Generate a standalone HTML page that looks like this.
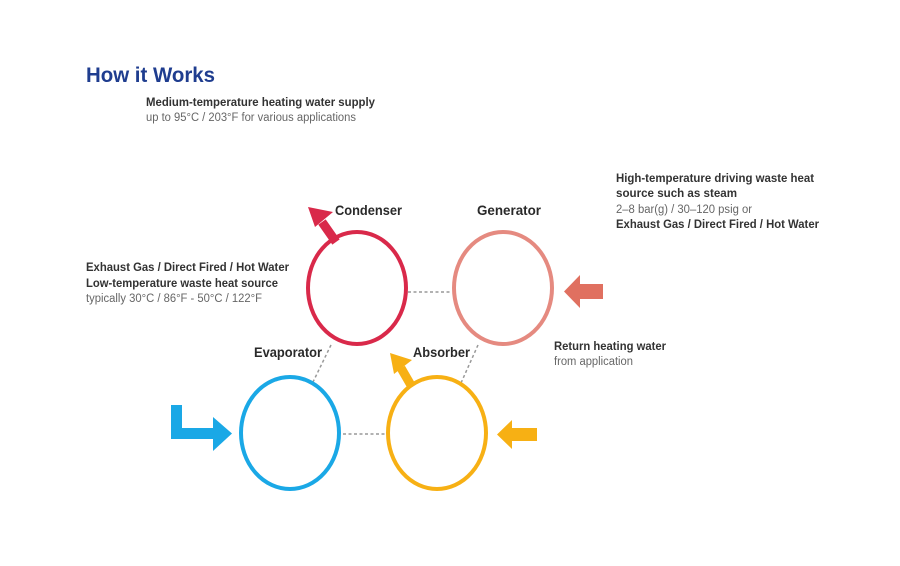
<!DOCTYPE html>
<html><head><meta charset="utf-8"><style>
html,body{margin:0;padding:0;background:#fff;}
svg{display:block;font-family:"Liberation Sans",Arial,sans-serif;}
.b{font-weight:bold;fill:#333;font-size:11.5px;}
.n{fill:#666;font-size:11.5px;}
.h{font-weight:bold;fill:#2a2a2a;font-size:13.5px;}
</style></head><body>
<svg width="900" height="566" viewBox="0 0 900 566">
<rect width="900" height="566" fill="#fff"/>
<text x="86" y="82" font-size="21" font-weight="bold" fill="#1f3d8f" textLength="129" lengthAdjust="spacingAndGlyphs">How it Works</text>
<text class="b" x="146" y="106" textLength="229" lengthAdjust="spacingAndGlyphs">Medium-temperature heating water supply</text>
<text class="n" x="146" y="121" textLength="210" lengthAdjust="spacingAndGlyphs">up to 95°C / 203°F for various applications</text>

<text class="b" x="616" y="182" textLength="198" lengthAdjust="spacingAndGlyphs">High-temperature driving waste heat</text>
<text class="b" x="616" y="197" textLength="121" lengthAdjust="spacingAndGlyphs">source such as steam</text>
<text class="n" x="616" y="213" textLength="136" lengthAdjust="spacingAndGlyphs">2–8 bar(g) / 30–120 psig or</text>
<text class="b" x="616" y="228" textLength="203" lengthAdjust="spacingAndGlyphs">Exhaust Gas / Direct Fired / Hot Water</text>

<text class="b" x="86" y="271" textLength="203" lengthAdjust="spacingAndGlyphs">Exhaust Gas / Direct Fired / Hot Water</text>
<text class="b" x="86" y="287" textLength="192" lengthAdjust="spacingAndGlyphs">Low-temperature waste heat source</text>
<text class="n" x="86" y="302" textLength="176" lengthAdjust="spacingAndGlyphs">typically 30°C / 86°F - 50°C / 122°F</text>

<text class="b" x="554" y="350" textLength="112" lengthAdjust="spacingAndGlyphs">Return heating water</text>
<text class="n" x="554" y="365" textLength="79" lengthAdjust="spacingAndGlyphs">from application</text>

<text class="h" x="335" y="215" textLength="67" lengthAdjust="spacingAndGlyphs">Condenser</text>
<text class="h" x="477" y="215" textLength="64" lengthAdjust="spacingAndGlyphs">Generator</text>
<text class="h" x="254" y="357" textLength="68" lengthAdjust="spacingAndGlyphs">Evaporator</text>
<text class="h" x="413" y="357" textLength="57" lengthAdjust="spacingAndGlyphs">Absorber</text>

<g stroke="#999" stroke-width="1.5" stroke-dasharray="3,2.5" fill="none">
<line x1="408" y1="292" x2="452" y2="292"/>
<line x1="343" y1="434" x2="385" y2="434"/>
<line x1="331" y1="345" x2="313" y2="382"/>
<line x1="478" y1="345" x2="461" y2="383"/>
</g>

<g fill="none" stroke-width="4">
<ellipse cx="357" cy="288" rx="49" ry="56" stroke="#d9294a"/>
<ellipse cx="503" cy="288" rx="49" ry="56" stroke="#e58a80"/>
<ellipse cx="290" cy="433" rx="49" ry="56" stroke="#1aa8e6"/>
<ellipse cx="437" cy="433" rx="49" ry="56" stroke="#f7b014"/>
</g>

<line x1="336" y1="242" x2="322" y2="222" stroke="#d9294a" stroke-width="9"/>
<polygon points="308,207 333,212 315,227" fill="#d9294a"/>
<line x1="412" y1="387" x2="401" y2="368" stroke="#f7b014" stroke-width="9"/>
<polygon points="390,353 412,360 394,374" fill="#f7b014"/>
<rect x="578" y="284" width="25" height="15" fill="#e07060"/>
<polygon points="564,291.5 580,275 580,308" fill="#e07060"/>
<rect x="511" y="428" width="26" height="13" fill="#f7b014"/>
<polygon points="497,434.5 512,420 512,449" fill="#f7b014"/>
<path d="M171 405 H182 V428 H214 V439 H171 Z" fill="#1aa8e6"/>
<polygon points="213,417 232,433.5 213,451" fill="#1aa8e6"/>
</svg>
</body></html>
